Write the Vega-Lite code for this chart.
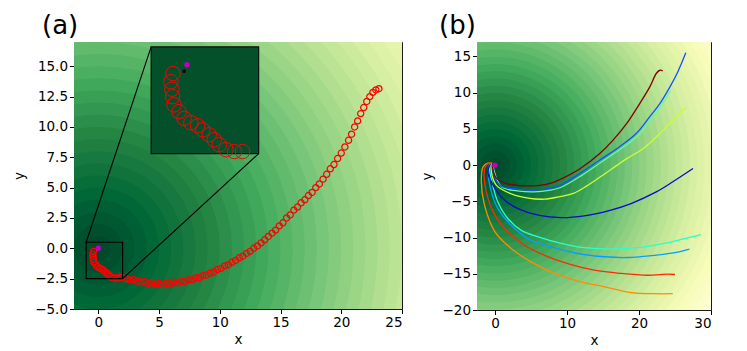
{
  "$schema": "https://vega.github.io/schema/vega-lite/v6.json",
  "background": "white",
  "padding": {"left": 12, "top": 12, "right": 5, "bottom": 0},
  "spacing": 16,
  "resolve": {"scale": {"size": "independent", "color": "independent"}},
  "config": {
    "font": "DejaVu Sans",
    "view": {"stroke": "#1a1a1a", "strokeWidth": 1},
    "axis": {"grid": false, "domain": false, "labelOverlap": false, "labelFont": "DejaVu Sans", "labelFontSize": 13.5, "labelColor": "#000", "tickColor": "#000", "tickSize": 4.5, "labelPadding": 2, "titleFont": "DejaVu Sans", "titleFontSize": 13.5, "titleFontWeight": "normal", "titleColor": "#000"},
    "axisX": {"titlePadding": 3},
    "axisY": {"titlePadding": 8},
    "title": {"font": "DejaVu Sans", "fontSize": 26, "fontWeight": "normal", "color": "#000", "anchor": "start", "frame": "group"}
  },
  "datasets": {
    "rings": [{"x":0,"y":0,"r":38},{"x":0,"y":0,"r":37},{"x":0,"y":0,"r":36},{"x":0,"y":0,"r":35},{"x":0,"y":0,"r":34},{"x":0,"y":0,"r":33},{"x":0,"y":0,"r":32},{"x":0,"y":0,"r":31},{"x":0,"y":0,"r":30},{"x":0,"y":0,"r":29},{"x":0,"y":0,"r":28},{"x":0,"y":0,"r":27},{"x":0,"y":0,"r":26},{"x":0,"y":0,"r":25},{"x":0,"y":0,"r":24},{"x":0,"y":0,"r":23},{"x":0,"y":0,"r":22},{"x":0,"y":0,"r":21},{"x":0,"y":0,"r":20},{"x":0,"y":0,"r":19},{"x":0,"y":0,"r":18},{"x":0,"y":0,"r":17},{"x":0,"y":0,"r":16},{"x":0,"y":0,"r":15},{"x":0,"y":0,"r":14},{"x":0,"y":0,"r":13},{"x":0,"y":0,"r":12},{"x":0,"y":0,"r":11},{"x":0,"y":0,"r":10},{"x":0,"y":0,"r":9},{"x":0,"y":0,"r":8},{"x":0,"y":0,"r":7},{"x":0,"y":0,"r":6},{"x":0,"y":0,"r":5},{"x":0,"y":0,"r":4},{"x":0,"y":0,"r":3},{"x":0,"y":0,"r":2},{"x":0,"y":0,"r":1}],
    "traj": [
      {"x":-0.39,"y":-0.25},{"x":-0.45,"y":-0.48},{"x":-0.42,"y":-0.69},{"x":-0.40,"y":-0.90},{"x":-0.36,"y":-1.13},{"x":-0.22,"y":-1.32},{"x":-0.08,"y":-1.51},{"x":0.11,"y":-1.63},{"x":0.30,"y":-1.72},{"x":0.44,"y":-1.83},{"x":0.62,"y":-1.97},{"x":0.76,"y":-2.11},{"x":0.90,"y":-2.25},{"x":1.09,"y":-2.39},{"x":1.32,"y":-2.44},{"x":1.55,"y":-2.44},{"x":1.78,"y":-2.39},{"x":1.97,"y":-2.39},
      {"x":2.3,"y":-2.5},{"x":2.6,"y":-2.62},{"x":2.9,"y":-2.58},{"x":3.2,"y":-2.7},{"x":3.5,"y":-2.8},{"x":3.8,"y":-2.74},{"x":4.1,"y":-2.88},{"x":4.4,"y":-2.84},{"x":4.7,"y":-2.95},{"x":5.0,"y":-2.9},{"x":5.3,"y":-2.97},{"x":5.6,"y":-2.88},{"x":5.9,"y":-2.92},{"x":6.2,"y":-2.8},{"x":6.5,"y":-2.85},{"x":6.8,"y":-2.72},{"x":7.1,"y":-2.75},{"x":7.4,"y":-2.6},{"x":7.7,"y":-2.6},{"x":8.0,"y":-2.45},{"x":8.3,"y":-2.42},{"x":8.6,"y":-2.25},{"x":8.9,"y":-2.2},{"x":9.2,"y":-2.05},{"x":9.5,"y":-1.95},{"x":9.8,"y":-1.75},{"x":10.1,"y":-1.65},{"x":10.4,"y":-1.45},{"x":10.7,"y":-1.35},{"x":11.0,"y":-1.15},{"x":11.3,"y":-1.0},{"x":11.6,"y":-0.78},{"x":11.9,"y":-0.65},{"x":12.2,"y":-0.42},{"x":12.5,"y":-0.25},{"x":12.8,"y":0.0},{"x":13.1,"y":0.2},{"x":13.4,"y":0.45},{"x":13.7,"y":0.7},{"x":14.0,"y":0.98},{"x":14.3,"y":1.25},{"x":14.6,"y":1.5},{"x":14.9,"y":1.85},{"x":15.2,"y":2.1},{"x":15.5,"y":2.5},{"x":15.8,"y":2.75},{"x":16.1,"y":3.15},{"x":16.4,"y":3.4},{"x":16.7,"y":3.75},{"x":17.0,"y":4.0},{"x":17.3,"y":4.35},{"x":17.6,"y":4.6},{"x":17.9,"y":5.0},{"x":18.2,"y":5.3},{"x":18.5,"y":5.7},{"x":18.8,"y":6.1},{"x":19.1,"y":6.55},{"x":19.4,"y":6.9},{"x":19.7,"y":7.4},{"x":20.0,"y":7.85},{"x":20.3,"y":8.35},{"x":20.6,"y":8.9},{"x":20.85,"y":9.4},{"x":21.1,"y":10.0},{"x":21.35,"y":10.5},{"x":21.6,"y":11.1},{"x":21.85,"y":11.6},{"x":22.1,"y":12.1},{"x":22.35,"y":12.5},{"x":22.6,"y":12.85},{"x":22.85,"y":13.05},{"x":23.1,"y":13.15}
    ],
    "lines": [
      {"s":"orange","i":0,"x":0,"y":0},{"s":"orange","i":1,"x":-0.8,"y":0.3},{"s":"orange","i":2,"x":-1.65,"y":-0.25},{"s":"orange","i":3,"x":-1.9,"y":-2.3},{"s":"orange","i":4,"x":-1.45,"y":-5.55},{"s":"orange","i":5,"x":0.0,"y":-9.2},{"s":"orange","i":6,"x":2.25,"y":-11.5},{"s":"orange","i":7,"x":5.0,"y":-13.35},{"s":"orange","i":8,"x":8.3,"y":-14.95},{"s":"orange","i":9,"x":11.5,"y":-16.0},{"s":"orange","i":10,"x":15.2,"y":-16.8},{"s":"orange","i":11,"x":18.9,"y":-17.6},{"s":"orange","i":12,"x":22.15,"y":-17.75},{"s":"orange","i":13,"x":24.7,"y":-17.75},
      {"s":"red","i":0,"x":0,"y":0},{"s":"red","i":1,"x":-0.7,"y":0.3},{"s":"red","i":2,"x":-1.4,"y":-0.45},{"s":"red","i":3,"x":-1.2,"y":-3.7},{"s":"red","i":4,"x":0.0,"y":-6.9},{"s":"red","i":5,"x":1.8,"y":-9.2},{"s":"red","i":6,"x":4.1,"y":-11.05},{"s":"red","i":7,"x":6.9,"y":-12.45},{"s":"red","i":8,"x":10.1,"y":-13.6},{"s":"red","i":9,"x":13.8,"y":-14.5},{"s":"red","i":10,"x":17.5,"y":-14.95},{"s":"red","i":11,"x":21.2,"y":-15.2},{"s":"red","i":12,"x":24.0,"y":-15.05},{"s":"red","i":13,"x":25.0,"y":-15.1},
      {"s":"lightblue","i":0,"x":0,"y":0},{"s":"lightblue","i":1,"x":-0.6,"y":0.2},{"s":"lightblue","i":2,"x":-0.95,"y":-0.7},{"s":"lightblue","i":3,"x":-0.5,"y":-3.7},{"s":"lightblue","i":4,"x":0.4,"y":-6.0},{"s":"lightblue","i":5,"x":2.25,"y":-8.3},{"s":"lightblue","i":6,"x":4.6,"y":-10.15},{"s":"lightblue","i":7,"x":7.8,"y":-11.3},{"s":"lightblue","i":8,"x":11.5,"y":-12.2},{"s":"lightblue","i":9,"x":15.2,"y":-12.65},{"s":"lightblue","i":10,"x":18.45,"y":-12.75},{"s":"lightblue","i":11,"x":22.15,"y":-12.45},{"s":"lightblue","i":12,"x":25.4,"y":-12.0},{"s":"lightblue","i":13,"x":27.0,"y":-11.6},
      {"s":"cyan","i":0,"x":0,"y":0},{"s":"cyan","i":1,"x":-0.5,"y":0.25},{"s":"cyan","i":2,"x":-0.75,"y":-0.25},{"s":"cyan","i":3,"x":-0.3,"y":-2.8},{"s":"cyan","i":4,"x":0.4,"y":-5.1},{"s":"cyan","i":5,"x":1.8,"y":-7.4},{"s":"cyan","i":6,"x":3.65,"y":-9.0},{"s":"cyan","i":7,"x":6.0,"y":-9.9},{"s":"cyan","i":8,"x":9.2,"y":-10.8},{"s":"cyan","i":9,"x":12.4,"y":-11.4},{"s":"cyan","i":10,"x":16.1,"y":-11.6},{"s":"cyan","i":11,"x":19.8,"y":-11.4},{"s":"cyan","i":12,"x":23.5,"y":-10.8},{"s":"cyan","i":13,"x":26.3,"y":-10.15},{"s":"cyan","i":14,"x":28.6,"y":-9.6},
      {"s":"darkblue","i":0,"x":0,"y":0},{"s":"darkblue","i":1,"x":-0.5,"y":0.2},{"s":"darkblue","i":2,"x":-1.0,"y":-0.9},{"s":"darkblue","i":3,"x":0.0,"y":-3.2},{"s":"darkblue","i":4,"x":1.35,"y":-4.85},{"s":"darkblue","i":5,"x":3.2,"y":-6.0},{"s":"darkblue","i":6,"x":6.0,"y":-6.9},{"s":"darkblue","i":7,"x":9.2,"y":-7.25},{"s":"darkblue","i":8,"x":12.4,"y":-7.0},{"s":"darkblue","i":9,"x":16.1,"y":-6.2},{"s":"darkblue","i":10,"x":18.9,"y":-5.3},{"s":"darkblue","i":11,"x":22.4,"y":-3.7},{"s":"darkblue","i":12,"x":24.7,"y":-2.3},{"s":"darkblue","i":13,"x":27.5,"y":-0.47},
      {"s":"yellowgreen","i":0,"x":0,"y":0},{"s":"yellowgreen","i":1,"x":-0.4,"y":0.2},{"s":"yellowgreen","i":2,"x":-0.5,"y":-0.9},{"s":"yellowgreen","i":3,"x":0.2,"y":-2.8},{"s":"yellowgreen","i":4,"x":2.1,"y":-3.9},{"s":"yellowgreen","i":5,"x":4.6,"y":-4.55},{"s":"yellowgreen","i":6,"x":6.9,"y":-4.7},{"s":"yellowgreen","i":7,"x":9.0,"y":-4.35},{"s":"yellowgreen","i":8,"x":10.9,"y":-3.9},{"s":"yellowgreen","i":9,"x":12.7,"y":-2.9},{"s":"yellowgreen","i":10,"x":14.6,"y":-1.65},{"s":"yellowgreen","i":11,"x":16.4,"y":-0.4},{"s":"yellowgreen","i":12,"x":18.3,"y":0.9},{"s":"yellowgreen","i":13,"x":20.6,"y":2.3},{"s":"yellowgreen","i":14,"x":22.9,"y":4.35},{"s":"yellowgreen","i":15,"x":24.7,"y":6.2},{"s":"yellowgreen","i":16,"x":26.5,"y":7.95},
      {"s":"mint","i":0,"x":0,"y":0},{"s":"mint","i":1,"x":-0.2,"y":0.1},{"s":"mint","i":2,"x":-0.1,"y":-0.9},{"s":"mint","i":3,"x":0.9,"y":-3.0},{"s":"mint","i":4,"x":3.1,"y":-3.55},{"s":"mint","i":5,"x":5.4,"y":-3.7},{"s":"mint","i":6,"x":7.7,"y":-3.45},{"s":"mint","i":7,"x":9.2,"y":-3.05},{"s":"mint","i":8,"x":12.0,"y":-1.45},{"s":"mint","i":9,"x":14.75,"y":0.4},{"s":"mint","i":10,"x":17.5,"y":2.25},{"s":"mint","i":11,"x":19.85,"y":4.05},{"s":"mint","i":12,"x":21.7,"y":6.35},{"s":"mint","i":13,"x":23.1,"y":8.2},{"s":"mint","i":14,"x":24.4,"y":10.3},
      {"s":"blue","i":0,"x":0,"y":0},{"s":"blue","i":1,"x":-0.3,"y":0.2},{"s":"blue","i":2,"x":-0.3,"y":-0.7},{"s":"blue","i":3,"x":0.7,"y":-2.8},{"s":"blue","i":4,"x":3.0,"y":-3.3},{"s":"blue","i":5,"x":5.3,"y":-3.45},{"s":"blue","i":6,"x":7.3,"y":-3.25},{"s":"blue","i":7,"x":9.0,"y":-2.8},{"s":"blue","i":8,"x":11.8,"y":-1.15},{"s":"blue","i":9,"x":14.55,"y":0.7},{"s":"blue","i":10,"x":17.3,"y":2.55},{"s":"blue","i":11,"x":19.65,"y":4.4},{"s":"blue","i":12,"x":21.5,"y":6.7},{"s":"blue","i":13,"x":22.9,"y":8.5},{"s":"blue","i":14,"x":24.3,"y":10.8},{"s":"blue","i":15,"x":25.4,"y":12.9},{"s":"blue","i":16,"x":26.5,"y":15.5},
      {"s":"darkred","i":0,"x":0,"y":0},{"s":"darkred","i":1,"x":-0.3,"y":0.2},{"s":"darkred","i":2,"x":-0.3,"y":-0.5},{"s":"darkred","i":3,"x":0.2,"y":-1.8},{"s":"darkred","i":4,"x":1.6,"y":-2.55},{"s":"darkred","i":5,"x":3.9,"y":-2.85},{"s":"darkred","i":6,"x":6.2,"y":-2.78},{"s":"darkred","i":7,"x":8.0,"y":-2.4},{"s":"darkred","i":8,"x":9.0,"y":-2.0},{"s":"darkred","i":9,"x":11.8,"y":-0.5},{"s":"darkred","i":10,"x":14.55,"y":1.6},{"s":"darkred","i":11,"x":16.4,"y":3.45},{"s":"darkred","i":12,"x":18.3,"y":5.75},{"s":"darkred","i":13,"x":20.1,"y":8.5},{"s":"darkred","i":14,"x":21.5,"y":10.8},{"s":"darkred","i":15,"x":22.4,"y":12.65},{"s":"darkred","i":16,"x":22.9,"y":13.1},{"s":"darkred","i":17,"x":23.3,"y":13.0}
    ]
  },
  "hconcat": [
    {
      "width": 328,
      "height": 267,
      "title": {"text": "(a)", "dx": -32, "offset": 3},
      "resolve": {"scale": {"x": "independent", "y": "independent"}, "axis": {"x": "independent", "y": "independent"}},
      "layer": [
        {
          "encoding": {
            "x": {"field": "x", "type": "quantitative", "scale": {"domain": [-2, 25], "nice": false, "zero": false}, "axis": {"orient": "bottom", "values": [0, 5, 10, 15, 20, 25], "title": "x"}},
            "y": {"field": "y", "type": "quantitative", "scale": {"domain": [-5, 17], "nice": false, "zero": false}, "axis": {"orient": "left", "values": [-5, -2.5, 0, 2.5, 5, 7.5, 10, 12.5, 15], "format": ".1f", "title": "y"}}
          },
          "layer": [
            {
              "data": {"name": "rings"},
              "mark": {"type": "point", "shape": "circle", "filled": true, "opacity": 1, "strokeWidth": 0, "clip": true},
              "encoding": {
                "size": {"field": "r", "type": "quantitative", "scale": {"type": "pow", "exponent": 2, "domain": [0, 38], "range": [0, 851570]}, "legend": null},
                "color": {"field": "r", "type": "quantitative", "scale": {"type": "linear", "domain": [0.5, 5.125, 9.75, 14.375, 19.0, 23.625, 28.25, 32.875, 37.5], "range": ["#004529", "#006837", "#238443", "#41ab5d", "#78c679", "#addd8e", "#d9f0a3", "#f7fcb9", "#ffffe5"]}, "legend": null}
              }
            },
            {
              "data": {"name": "traj"},
              "mark": {"type": "point", "shape": "circle", "filled": false, "stroke": "#ff0000", "strokeWidth": 1.25, "size": 38, "opacity": 1}
            },
            {
              "data": {"values": [{"x": -1, "x2": 2, "y": -2.5, "y2": 0.5}]},
              "mark": {"type": "rect", "fill": null, "fillOpacity": 0, "stroke": "#000", "strokeWidth": 1.2},
              "encoding": {"x2": {"field": "x2"}, "y2": {"field": "y2"}}
            },
            {
              "data": {"values": [{"x": -1, "y": 0.5, "x2": 4.35, "y2": 16.6}, {"x": 2, "y": -2.5, "x2": 13.2, "y2": 7.8}]},
              "mark": {"type": "rule", "color": "#000", "strokeWidth": 1.1},
              "encoding": {"x2": {"field": "x2"}, "y2": {"field": "y2"}}
            },
            {
              "data": {"values": [{"x": 4.35, "x2": 13.2, "y": 7.8, "y2": 16.6}]},
              "mark": {"type": "rect", "fill": "#03502b", "stroke": "#111", "strokeWidth": 1.2},
              "encoding": {"x2": {"field": "x2"}, "y2": {"field": "y2"}}
            },
            {
              "data": {"values": [{"x": 0, "y": 0}]},
              "mark": {"type": "point", "shape": "circle", "filled": true, "color": "#bf00bf", "size": 30, "opacity": 1}
            }
          ]
        },
        {
          "encoding": {
            "x": {"field": "x", "type": "quantitative", "scale": {"domain": [-1, 2], "range": [77.1, 184.7], "nice": false, "zero": false}, "axis": {"orient": "bottom", "offset": -155.35, "values": [0], "labels": false, "title": null, "tickSize": 3}},
            "y": {"field": "y", "type": "quantitative", "scale": {"domain": [-2.5, 0.5], "range": [111.65, 4.85], "nice": false, "zero": false}, "axis": {"orient": "left", "offset": -77.1, "values": [-2, -1, 0], "labels": false, "title": null, "tickSize": 3}}
          },
          "layer": [
            {
              "data": {"name": "traj"},
              "transform": [{"filter": "datum.x <= 1.6"}],
              "mark": {"type": "point", "shape": "circle", "filled": false, "stroke": "#ff0000", "strokeWidth": 1, "size": 210, "opacity": 1}
            },
            {
              "data": {"values": [{"x": -0.08, "y": -0.18}]},
              "mark": {"type": "point", "shape": "circle", "filled": true, "color": "#000", "size": 14, "opacity": 1}
            },
            {
              "data": {"values": [{"x": 0, "y": 0}]},
              "mark": {"type": "point", "shape": "circle", "filled": true, "color": "#bf00bf", "size": 30, "opacity": 1}
            }
          ]
        }
      ]
    },
    {
      "width": 234,
      "height": 268,
      "title": {"text": "(b)", "dx": -38, "offset": 3},
      "encoding": {
        "x": {"field": "x", "type": "quantitative", "scale": {"domain": [-2.5, 30], "nice": false, "zero": false}, "axis": {"values": [0, 10, 20, 30], "title": "x"}},
        "y": {"field": "y", "type": "quantitative", "scale": {"domain": [-20, 17], "nice": false, "zero": false}, "axis": {"values": [-20, -15, -10, -5, 0, 5, 10, 15], "title": "y"}}
      },
      "resolve": {"scale": {"color": "independent"}},
      "layer": [
        {
          "data": {"name": "rings"},
          "mark": {"type": "point", "shape": "circle", "filled": true, "opacity": 1, "strokeWidth": 0, "clip": true},
          "encoding": {
            "size": {"field": "r", "type": "quantitative", "scale": {"type": "pow", "exponent": 2, "domain": [0, 38], "range": [0, 301180]}, "legend": null},
            "color": {"field": "r", "type": "quantitative", "scale": {"type": "linear", "domain": [0.5, 5.125, 9.75, 14.375, 19.0, 23.625, 28.25, 32.875, 37.5], "range": ["#004529", "#006837", "#238443", "#41ab5d", "#78c679", "#addd8e", "#d9f0a3", "#f7fcb9", "#ffffe5"]}, "legend": null}
          }
        },
        {
          "data": {"name": "lines"},
          "mark": {"type": "line", "strokeWidth": 1.3, "clip": true, "interpolate": "catmull-rom"},
          "encoding": {
            "color": {"field": "s", "type": "nominal", "scale": {"domain": ["orange", "red", "lightblue", "cyan", "darkblue", "yellowgreen", "mint", "blue", "darkred"], "range": ["#ff8c00", "#ff2a00", "#00a0ff", "#29ffce", "#0a0acc", "#c8ff30", "#5dffa0", "#1450ff", "#850000"]}, "legend": null},
            "order": {"field": "i", "type": "quantitative"}
          }
        },
        {
          "data": {"values": [{"x": 0, "y": 0}]},
          "mark": {"type": "point", "shape": "circle", "filled": true, "color": "#bf00bf", "size": 28, "opacity": 1}
        }
      ]
    }
  ]
}
